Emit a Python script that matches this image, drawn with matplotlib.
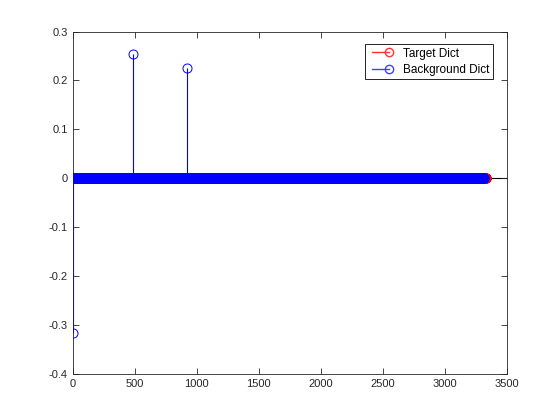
import numpy as np
import matplotlib
matplotlib.use('Agg')
import matplotlib.pyplot as plt
from matplotlib.lines import Line2D
from matplotlib.legend_handler import HandlerLine2D

plt.rcParams['font.family'] = ['Liberation Sans', 'DejaVu Sans']

# signal lengths (number of dictionary coefficients)
target_len = 3335
background_len = 3315

# non-zero coefficients
target_idx = []
target_val = []
background_idx = [1, 485, 920]
background_val = [-0.316, 0.253, 0.226]

legend_labels = ['Target Dict', 'Background Dict']
xticks = [0, 500, 1000, 1500, 2000, 2500, 3000, 3500]
yticks = [-0.4, -0.3, -0.2, -0.1, 0, 0.1, 0.2, 0.3]

target = np.zeros(target_len)
target[np.array(target_idx, dtype=int)] = target_val
background = np.zeros(background_len)
background[np.array(background_idx, dtype=int)] = background_val
xt = np.arange(1, target_len + 1)
xb = np.arange(1, background_len + 1)


class StemHandler(HandlerLine2D):
    # matlab style legend entry: line with the marker at its right end
    def create_artists(self, legend, orig_handle, xdescent, ydescent, width, height, fontsize, trans):
        arts = super().create_artists(legend, orig_handle, xdescent, ydescent, width, height, fontsize, trans)
        for a in arts:
            a.set_markevery([len(a.get_xdata()) - 1])
        return arts


fig = plt.figure(figsize=(5.6, 4.2), dpi=100)
ax = fig.add_axes([0.13, 0.11, 0.775, 0.815])

ax.axhline(0, color='black', lw=0.8, zorder=1)

for x, y, c in [(xt, target, 'red'), (xb, background, 'blue')]:
    nz = y != 0
    ax.vlines(x[nz], 0, y[nz], color=c, lw=0.8, zorder=2)
    ax.plot(x, y, 'o', ls='none', mfc='none', mec=c, ms=6.5, mew=0.7, zorder=3)

ax.set_xlim(0, 3500)
ax.set_ylim(-0.4, 0.3)
ax.set_xticks(xticks)
ax.set_yticks(yticks)
ax.set_yticklabels(['-0.4', '-0.3', '-0.2', '-0.1', '0', '0.1', '0.2', '0.3'])
ax.tick_params(direction='in', top=True, right=True, labelsize=8, colors='#262626',
               length=4, width=0.6)
for s in ax.spines.values():
    s.set_linewidth(0.6)
    s.set_color('#262626')

handles = [Line2D([], [], color=(1, 0.2, 0.2), marker='o', mfc='none', ms=6, lw=1.0),
           Line2D([], [], color=(0.25, 0.25, 1), marker='o', mfc='none', ms=6, lw=1.0)]
leg = ax.legend(handles, legend_labels, loc='upper right', fontsize=8.5, fancybox=False,
                framealpha=1, edgecolor='black', borderaxespad=0,
                bbox_to_anchor=(493 / 560, 1 - 44 / 420), bbox_transform=fig.transFigure,
                handlelength=2.0, borderpad=0.3, labelspacing=0.35, handletextpad=0.9,
                numpoints=2, handler_map={Line2D: StemHandler()})
leg.get_frame().set_linewidth(0.6)

fig.savefig('out.png', dpi=100)
